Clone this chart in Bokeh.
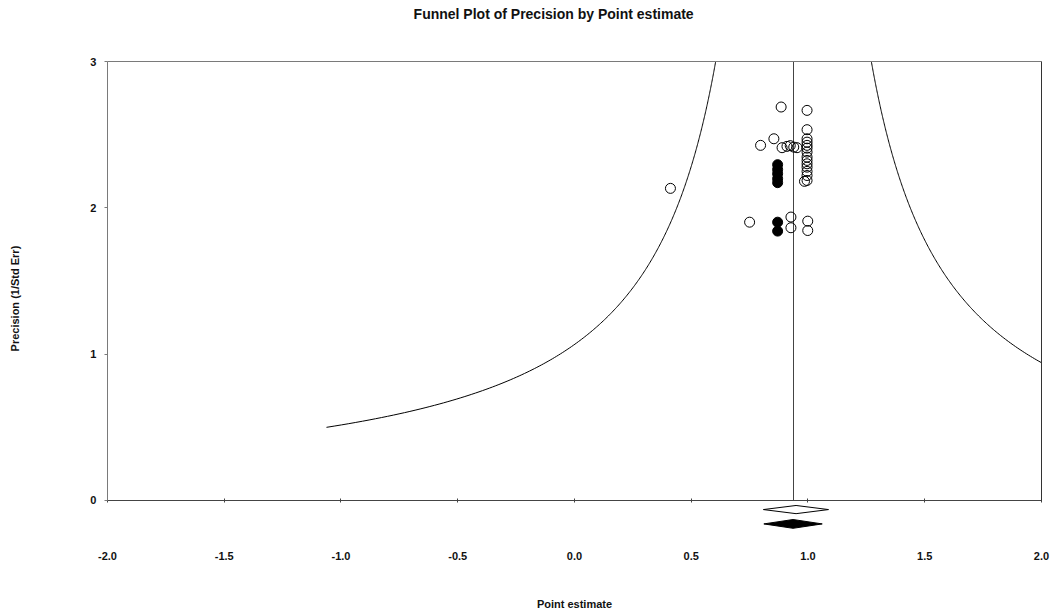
import numpy as np
from bokeh.plotting import figure
from bokeh.models import Range1d, LinearAxis, FixedTicker, NumeralTickFormatter, Label
from bokeh.embed import file_html
from bokeh.resources import INLINE

# ---- data ----
open_x = [0.885, 0.996, 0.996, 0.854, 0.797, 0.889, 0.910, 0.924, 0.939, 0.953,
          0.996, 0.996, 0.996, 0.996, 0.996, 0.996, 0.996, 0.996, 0.996, 0.996,
          0.996, 0.996, 0.985, 0.411, 0.750, 0.927, 0.927, 0.999, 0.999]
open_y = [2.689, 2.666, 2.534, 2.472, 2.427, 2.411, 2.420, 2.425, 2.415, 2.411,
          2.472, 2.449, 2.427, 2.408, 2.381, 2.347, 2.324, 2.301, 2.278, 2.249,
          2.221, 2.187, 2.181, 2.133, 1.902, 1.937, 1.864, 1.909, 1.845]
filled_x = [0.870, 0.870, 0.870, 0.870, 0.870, 0.870, 0.870]
filled_y = [2.295, 2.262, 2.233, 2.199, 2.172, 1.902, 1.841]

pooled_estimate = 0.938          # vertical line
funnel_z = 1.0                   # funnel half-width multiplier (x = mean +/- z / precision)
funnel_precision = np.linspace(0.5, 3.0, 300)

observed_diamond = [0.809, 0.949, 1.088]   # lower, estimate, upper
adjusted_diamond = [0.811, 0.936, 1.061]

x_ticks = [-2.0, -1.5, -1.0, -0.5, 0.0, 0.5, 1.0, 1.5, 2.0]
y_ticks = [0, 1, 2, 3]
x_min, x_max = -2.0, 2.0
y_min, y_max = 0, 3

TITLE = "Funnel Plot of Precision by Point estimate"
X_LABEL = "Point estimate"
Y_LABEL = "Precision (1/Std Err)"
FONT = "Liberation Sans"

# the frame covers the whole canvas; axes are pinned to the data box
p = figure(width=1054, height=611, x_range=Range1d(-2.458, 2.0557),
           y_range=Range1d(-0.7586, 3.4169),
           output_backend="svg", toolbar_location=None,
           min_border_left=0, min_border_right=0, min_border_top=0, min_border_bottom=0)
p.grid.visible = False
p.outline_line_color = None
p.background_fill_color = "white"

xa = p.below[0]
xa.fixed_location = y_min
xa.ticker = FixedTicker(ticks=x_ticks, minor_ticks=[])
xa.formatter = NumeralTickFormatter(format="0.0")
xa.bounds = (x_min, x_max)
xa.axis_line_color = "#444444"
xa.major_tick_line_color = "#444444"
xa.major_tick_out = 2
xa.major_tick_in = 2
xa.major_label_standoff = 50
xa.major_label_text_font = FONT
xa.major_label_text_font_size = "11px"
xa.major_label_text_font_style = "bold"
xa.major_label_text_color = "#111111"

ya = p.left[0]
ya.fixed_location = x_min
ya.ticker = FixedTicker(ticks=y_ticks, minor_ticks=[])
ya.bounds = (y_min, y_max)
ya.axis_line_color = "#7a7a7a"
ya.major_tick_out = 3
ya.major_tick_in = 0
ya.major_tick_line_color = "#7a7a7a"
ya.major_label_standoff = 8
ya.major_label_text_font = FONT
ya.major_label_text_font_size = "11px"
ya.major_label_text_font_style = "bold"
ya.major_label_text_color = "#111111"

# right and top borders of the data box
right = LinearAxis(fixed_location=x_max, ticker=FixedTicker(ticks=[], minor_ticks=[]),
                   bounds=(y_min, y_max), major_tick_out=0, major_tick_in=0,
                   minor_tick_out=0, minor_tick_in=0, major_label_standoff=0,
                   axis_line_color="#333333")
p.add_layout(right, "right")
top = LinearAxis(fixed_location=y_max, ticker=FixedTicker(ticks=[], minor_ticks=[]),
                 bounds=(x_min, x_max), major_tick_out=0, major_tick_in=0,
                 minor_tick_out=0, minor_tick_in=0, major_label_standoff=0,
                 axis_line_color="#7a7a7a")
p.add_layout(top, "above")

# texts
text_style = dict(text_font=FONT, text_font_style="bold", text_color="#111111")
p.add_layout(Label(x=-0.689, y=3.328, text=TITLE, text_align="left", text_baseline="middle",
                   text_font_size="14px", **text_style))
p.add_layout(Label(x=0.0, y=-0.704, text=X_LABEL, text_align="center", text_baseline="middle",
                   text_font_size="11px", **text_style))
p.add_layout(Label(x=-2.394, y=1.38, text=Y_LABEL, text_align="center", text_baseline="middle",
                   angle=np.pi / 2, text_font_size="11px", **text_style))

# funnel
left_x = pooled_estimate - funnel_z / funnel_precision
right_x = pooled_estimate + funnel_z / funnel_precision
keep = right_x <= x_max
p.line(left_x, funnel_precision, line_color="black", line_width=1)
p.line(right_x[keep], funnel_precision[keep], line_color="black", line_width=1)

# pooled estimate line
p.segment(x0=[pooled_estimate], y0=[y_min], x1=[pooled_estimate], y1=[y_max],
          line_color="#444444", line_width=1)

# studies
p.scatter(open_x, open_y, size=10, marker="circle", fill_color=None,
          line_color="black", line_width=1)
p.scatter(filled_x, filled_y, size=10, marker="circle", fill_color="black",
          line_color="black", line_width=1)

# diamonds
def diamond(vals, row, half_h, fill):
    lo, est, hi = vals
    p.patch([lo, est, hi, est], [row, row + half_h, row, row - half_h],
            fill_color=fill, line_color="black", line_width=1)

diamond(observed_diamond, -0.062, 0.028, "white")
diamond(adjusted_diamond, -0.160, 0.030, "black")

open("out.html", "w").write(file_html(p, INLINE))
